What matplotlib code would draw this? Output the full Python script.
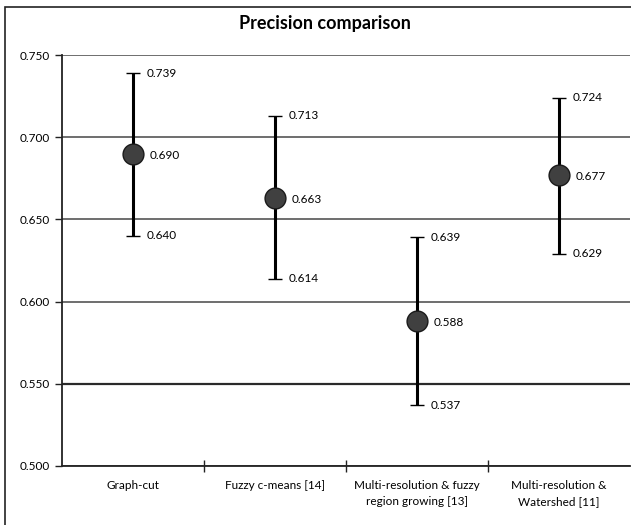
import matplotlib
matplotlib.use("Agg")
import matplotlib.pyplot as plt
from matplotlib.patches import Rectangle

categories = ["Graph-cut", "Fuzzy c-means [14]", "Multi-resolution & fuzzy\nregion growing [13]",
              "Multi-resolution &\nWatershed [11]"]
mean_vals = [0.690, 0.663, 0.588, 0.677]
upper_vals = [0.739, 0.713, 0.639, 0.724]
lower_vals = [0.640, 0.614, 0.537, 0.629]
yticks = [0.500, 0.550, 0.600, 0.650, 0.700, 0.750]

plt.rcParams['font.family'] = ['Lato', 'DejaVu Sans']

fig = plt.figure(figsize=(6.31, 5.25), dpi=100)
fig.patches.append(Rectangle((5/631, -0.1), 1.2, 1 - 7/525 + 0.1, transform=fig.transFigure,
                             fill=False, edgecolor='#222222', linewidth=1.2))
ax = fig.add_axes([62/631, 1 - 466/525, (630 - 62)/631, (466 - 55)/525])

x = list(range(len(categories)))
yerr_low = [m - l for m, l in zip(mean_vals, lower_vals)]
yerr_high = [u - m for m, u in zip(mean_vals, upper_vals)]
ax.errorbar(x, mean_vals, yerr=[yerr_low, yerr_high], fmt='o', color='black',
            ecolor='black', elinewidth=2.2, capsize=5, capthick=2.2,
            markersize=15, markerfacecolor='#404040', markeredgecolor='#1a1a1a',
            markeredgewidth=1, zorder=3)

for xi, m, u, l in zip(x, mean_vals, upper_vals, lower_vals):
    ax.annotate(f"{u:.3f}", (xi, u), xytext=(10, 0), textcoords='offset points',
                va='center', ha='left', fontsize=8.5)
    ax.annotate(f"{l:.3f}", (xi, l), xytext=(10, 0), textcoords='offset points',
                va='center', ha='left', fontsize=8.5)
    ax.annotate(f"{m:.3f}", (xi, m), xytext=(12, -1), textcoords='offset points',
                va='center', ha='left', fontsize=8.5)

ax.set_xlim(-0.5, len(categories) - 0.5)
ax.set_ylim(0.500, 0.750)
ax.set_yticks(yticks)
ax.set_yticklabels([f"{t:.3f}" for t in yticks], fontsize=8.5)
ax.set_xticks([i + 0.5 for i in range(len(categories) - 1)], minor=False)
ax.set_xticklabels([])
ax.tick_params(axis='x', direction='inout', length=8, width=1, color='#222222')
ax.tick_params(axis='y', direction='out', length=5, width=1, color='#222222')
for xi, c in zip(x, categories):
    ax.text(xi, -0.035, c, transform=ax.get_xaxis_transform(), ha='center', va='top',
            fontsize=8.5, linespacing=1.5)

ax.yaxis.grid(True, color='#555555', linewidth=1.2)
gl = ax.get_ygridlines()
for t, g in zip(yticks, gl):
    if abs(t - 0.550) < 1e-9:
        g.set_color('#2a2a2a')
        g.set_linewidth(1.6)
ax.set_axisbelow(True)
for s in ['top', 'right']:
    ax.spines[s].set_visible(False)
ax.spines['left'].set_color('#222222')
ax.spines['bottom'].set_color('#222222')
ax.spines['left'].set_linewidth(1.3)
ax.spines['bottom'].set_linewidth(1.3)

fig.text(325/631, 1 - 23/525, "Precision comparison", ha='center', va='center',
         fontsize=13, fontweight='bold')

fig.savefig("out.png", dpi=100)
